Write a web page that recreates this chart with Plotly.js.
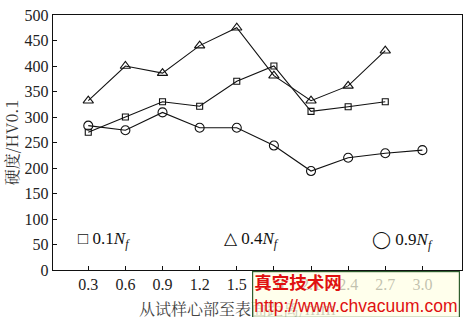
<!DOCTYPE html>
<html>
<head>
<meta charset="utf-8">
<script src="https://cdn.plot.ly/plotly-3.0.1.min.js"></script>
<style>html,body{margin:0;padding:0;background:#fff;}#chart{width:467px;height:317px;}</style>
</head>
<body>
<div id="chart"></div>
<script>
const distances = [0.3, 0.6, 0.9, 1.2, 1.5, 1.8, 2.1, 2.4, 2.7, 3.0];
const hardness01 = [270, 300, 330, 321, 370, 400, 311, 320, 330];
const hardness04 = [332, 400, 386, 440, 475, 381, 332, 361, 430];
const hardness09 = [283, 274, 309, 279, 279, 244, 194, 220, 229, 235];
const xTicks = [0.3, 0.6, 0.9, 1.2, 1.5, 1.8, 2.1, 2.4, 2.7, 3.0];
const xTickText = ['0.3', '0.6', '0.9', '1.2', '1.5', '1.8', '2.1', '2.4', '2.7', '3.0'];
const yTicks = [0, 50, 100, 150, 200, 250, 300, 350, 400, 450, 500];
const seriesNames = ['0.1<i>N<sub>f</sub></i>', '0.4<i>N<sub>f</sub></i>', '0.9<i>N<sub>f</sub></i>'];
const legendSymbols = ['□', '△', '<span style="font-family:DejaVu Sans">◯</span>'];

const serif = 'Liberation Serif, Times New Roman, serif';
const line = {color: '#111', width: 1.1};

const traces = [
  {x: distances.slice(0, hardness01.length), y: hardness01, mode: 'lines+markers', line: line,
   marker: {symbol: 'square-open', size: 6, color: '#111', line: {width: 1.1}}, name: seriesNames[0]},
  {x: distances.slice(0, hardness04.length), y: hardness04, mode: 'lines+markers', line: line,
   marker: {symbol: 'triangle-up-open', size: 9, color: '#111', line: {width: 1.1}}, name: seriesNames[1]},
  {x: distances.slice(0, hardness09.length), y: hardness09, mode: 'lines+markers', line: line,
   marker: {symbol: 'circle-open', size: 9, color: '#111', line: {width: 1.1}}, name: seriesNames[2]}
];

const legendX = [0.2, 1.38, 2.58];
const annotations = seriesNames.map((n, i) => ({
  x: legendX[i], y: 58, xref: 'x', yref: 'y', xanchor: 'left', yanchor: 'middle',
  text: legendSymbols[i] + ' ' + n, showarrow: false,
  font: {family: serif, size: 17, color: '#111'}
}));
annotations.push({
  x: 0.45, y: -0.098, xref: 'paper', yref: 'paper', xanchor: 'center', yanchor: 'top',
  text: '从试样心部至表面距离/mm', showarrow: false,
  font: {family: 'Noto Serif CJK SC, Noto Sans CJK SC, serif', size: 16, color: '#444'}
});
annotations.push({
  x: 0.995, y: -0.005, xref: 'paper', yref: 'paper', xanchor: 'right', yanchor: 'top',
  text: '<b>真空技术网</b>                   <br>http://www.chvacuum.com', showarrow: false, align: 'left',
  bgcolor: 'rgba(255,255,228,0.72)', bordercolor: '#2f5f2f', borderwidth: 1.2, borderpad: 1,
  font: {family: 'Liberation Sans, Noto Sans CJK SC, sans-serif', size: 17.5, color: '#e01010'}
});

const layout = {
  width: 467, height: 317,
  margin: {l: 53, r: 5, t: 15, b: 47},
  paper_bgcolor: '#fff', plot_bgcolor: '#fff',
  showlegend: false,
  xaxis: {
    range: [0.015, 3.32], tickvals: xTicks, ticktext: xTickText,
    ticks: 'inside', ticklen: 4, tickcolor: '#111', showgrid: false, zeroline: false,
    showline: true, linecolor: '#111', linewidth: 1.2, mirror: true,
    tickfont: {family: serif, size: 16, color: '#222'}
  },
  yaxis: {
    range: [0, 500], tickvals: yTicks,
    ticks: 'inside', ticklen: 4, tickcolor: '#111', showgrid: false, zeroline: false,
    showline: true, linecolor: '#111', linewidth: 1.2, mirror: true,
    tickfont: {family: serif, size: 16, color: '#222'},
    title: {text: '硬度/HV0.1', font: {family: 'Noto Serif CJK SC, Liberation Serif, serif', size: 16, color: '#333'}, standoff: 6}
  },
  annotations: annotations
};

Plotly.newPlot('chart', traces, layout, {staticPlot: true, displayModeBar: false});
</script>
</body>
</html>
